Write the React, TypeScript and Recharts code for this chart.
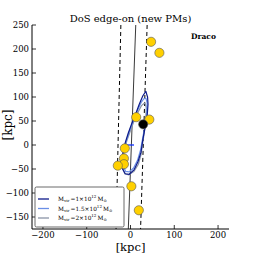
import { ScatterChart, Scatter, XAxis, YAxis } from 'recharts'

// satellites (yellow) and Draco (black), kpc
const satX = [47, 66, 13, 43, -13, -15, -15, -29, 2, 19]
const satY = [215, 192, 58, 53, -7, -28, -40, -43, -86, -136]
const dracoX = [29]
const dracoY = [43]

// orbits for the three halo masses
const orbitNavyX = [35, 39, 40, 38, 33, 28, 24, 17, 8, -3, -12, -18, -20, -17, -12, -5, 3, 12, 20, 28, 35]
const orbitNavyY = [112, 100, 85, 60, 35, 10, -15, -35, -52, -61, -60, -50, -35, -15, 5, 25, 45, 65, 85, 102, 112]
const orbitBlueX = [35, 38, 37, 33, 28, 23, 16, 7, -3, -11, -16, -17, -14, -9, -2, 6, 15, 24, 30, 35]
const orbitBlueY = [98, 88, 65, 40, 15, -10, -32, -48, -56, -55, -45, -30, -10, 10, 30, 50, 70, 88, 96, 98]
const orbitGrayX = [33, 36, 35, 32, 28, 24, 18, 8, -4, -13, -18, -18, -14, -8, 0, 8, 17, 25, 33]
const orbitGrayY = [88, 78, 55, 30, 5, -20, -40, -55, -62, -60, -48, -30, -10, 10, 30, 50, 68, 82, 88]

// plane and its thickness
const planeX = [12, -5]
const planeY = [250, -175]
const leftEdgeX = [-22, -33]
const rightEdgeX = [38, 23]
const edgeY = [250, -175]

const crossX = [-10, 8]
const crossY = [0, 0]

const xTicks = [-200, -100, 0, 100, 200]
const yTicks = [-150, -100, -50, 0, 50, 100, 150, 200, 250]

const NAVY = '#0d1a8a'
const BLUE = '#6a8fe6'
const GRAY = '#8a94a6'
const FONT = 'DejaVu Serif'

const pts = (xs: number[], ys: number[]) => xs.map((x, i) => ({ x, y: ys[i] }))

const fmt = (v: number) => (v < 0 ? '\u2212' + Math.abs(v) : String(v))

function BottomTick({ x, y, payload }: any) {
  return (
    <g>
      <line x1={x} y1={y} x2={x} y2={y - 4} stroke="#000" strokeWidth={0.8} />
      <text x={x} y={y + 9} textAnchor="middle" fontSize={8.5} fontFamily={FONT} fill="#000">
        {fmt(payload.value)}
      </text>
    </g>
  )
}

function TopTick({ x, y }: any) {
  return <line x1={x} y1={y} x2={x} y2={y + 4} stroke="#000" strokeWidth={0.8} />
}

function LeftTick({ x, y, payload }: any) {
  return (
    <g>
      <line x1={x} y1={y} x2={x + 4} y2={y} stroke="#000" strokeWidth={0.8} />
      <text x={x - 3} y={y + 3} textAnchor="end" fontSize={8.5} fontFamily={FONT} fill="#000">
        {fmt(payload.value)}
      </text>
    </g>
  )
}

function RightTick({ x, y }: any) {
  return <line x1={x} y1={y} x2={x - 4} y2={y} stroke="#000" strokeWidth={0.8} />
}

const noDot = () => <g />

function Dot({ cx, cy, fill }: any) {
  return <circle cx={cx} cy={cy} r={4.6} fill={fill} stroke="#555" strokeWidth={0.6} />
}

function LegendRow({ y, color, mass }: { y: number; color: string; mass: string }) {
  return (
    <g>
      <line x1={38} x2={49} y1={y} y2={y} stroke={color} strokeWidth={1.3} />
      <text x={58} y={y + 2} fontSize={5.8} fontFamily={FONT} fill="#000">
        M<tspan fontSize={4} dy={1.3}>vir</tspan>
        <tspan dy={-1.3}>{`\u2009=${mass}\u00d710`}</tspan>
        <tspan fontSize={4} dy={-2.6}>12</tspan>
        <tspan dy={2.6}>{'\u2009M'}</tspan>
        <tspan fontSize={4} dy={1.3}>{'\u2299'}</tspan>
      </text>
    </g>
  )
}

export default function App() {
  return (
    <div style={{ position: 'absolute', left: 0, top: 0, width: 255, height: 255, background: '#fff' }}>
      <ScatterChart width={255} height={255} margin={{ top: 25, right: 26, bottom: 0, left: 0 }}>
        <XAxis
          type="number"
          dataKey="x"
          domain={[-225, 225]}
          ticks={xTicks}
          interval={0}
          allowDataOverflow
          height={26}
          tickSize={0}
          tickMargin={0}
          tick={<BottomTick />}
          axisLine={{ stroke: '#000', strokeWidth: 1 }}
        />
        <XAxis
          xAxisId="top"
          orientation="top"
          type="number"
          domain={[-225, 225]}
          ticks={xTicks}
          interval={0}
          allowDataOverflow
          height={0}
          tickSize={0}
          tickMargin={0}
          tick={<TopTick />}
          axisLine={{ stroke: '#000', strokeWidth: 1 }}
        />
        <YAxis
          type="number"
          dataKey="y"
          domain={[-175, 250]}
          ticks={yTicks}
          interval={0}
          allowDataOverflow
          width={32}
          tickSize={0}
          tickMargin={0}
          tick={<LeftTick />}
          axisLine={{ stroke: '#000', strokeWidth: 1 }}
        />
        <YAxis
          yAxisId="right"
          orientation="right"
          type="number"
          domain={[-175, 250]}
          ticks={yTicks}
          interval={0}
          allowDataOverflow
          width={0}
          tickSize={0}
          tickMargin={0}
          tick={<RightTick />}
          axisLine={{ stroke: '#000', strokeWidth: 1 }}
        />
        <Scatter
          data={pts(leftEdgeX, edgeY)}
          fill="#000"
          line={{ stroke: '#000', strokeWidth: 1, strokeDasharray: '4 3' }}
          lineType="joint"
          shape={noDot}
          isAnimationActive={false}
        />
        <Scatter
          data={pts(rightEdgeX, edgeY)}
          fill="#000"
          line={{ stroke: '#000', strokeWidth: 1, strokeDasharray: '4 3' }}
          lineType="joint"
          shape={noDot}
          isAnimationActive={false}
        />
        <Scatter
          data={pts(planeX, planeY)}
          fill="#000"
          line={{ stroke: '#222', strokeWidth: 0.9 }}
          lineType="joint"
          shape={noDot}
          isAnimationActive={false}
        />
        <Scatter
          data={pts(orbitGrayX, orbitGrayY)}
          fill={GRAY}
          line={{ stroke: GRAY, strokeWidth: 1.2 }}
          lineType="joint"
          shape={noDot}
          isAnimationActive={false}
        />
        <Scatter
          data={pts(orbitBlueX, orbitBlueY)}
          fill={BLUE}
          line={{ stroke: BLUE, strokeWidth: 1.2 }}
          lineType="joint"
          shape={noDot}
          isAnimationActive={false}
        />
        <Scatter
          data={pts(orbitNavyX, orbitNavyY)}
          fill={NAVY}
          line={{ stroke: NAVY, strokeWidth: 1.2 }}
          lineType="joint"
          shape={noDot}
          isAnimationActive={false}
        />
        <Scatter
          data={pts(crossX, crossY)}
          fill="#1030ff"
          line={{ stroke: '#1030ff', strokeWidth: 1.3 }}
          lineType="joint"
          shape={noDot}
          isAnimationActive={false}
        />
        <Scatter data={pts(satX, satY)} fill="#ffd000" shape={<Dot />} isAnimationActive={false} />
        <Scatter data={pts(dracoX, dracoY)} fill="#000" shape={<Dot />} isAnimationActive={false} />
      </ScatterChart>
      <svg
        width={255}
        height={255}
        style={{ position: 'absolute', left: 0, top: 0, pointerEvents: 'none' }}
      >
        <text x={130.5} y={22} textAnchor="middle" fontSize={10} fontFamily={FONT} fill="#000">
          DoS edge-on (new PMs)
        </text>
        <text x={130.5} y={251} textAnchor="middle" fontSize={11.5} fontFamily={FONT} fill="#000">
          [kpc]
        </text>
        <text
          x={11.5}
          y={125}
          textAnchor="middle"
          fontSize={12}
          fontFamily={FONT}
          fill="#000"
          transform="rotate(-90 11.5 125)"
        >
          [kpc]
        </text>
        <text x={203.5} y={38.5} textAnchor="middle" fontSize={7.5} fontWeight="bold" fontFamily={FONT} fill="#000">
          Draco
        </text>
        <rect x={35} y={187} width={89} height={40} rx={1.5} fill="#fff" stroke="#444" strokeWidth={0.8} />
        <LegendRow y={199} color={NAVY} mass="1" />
        <LegendRow y={208.5} color={BLUE} mass="1.5" />
        <LegendRow y={218} color={GRAY} mass="2" />
      </svg>
    </div>
  )
}
